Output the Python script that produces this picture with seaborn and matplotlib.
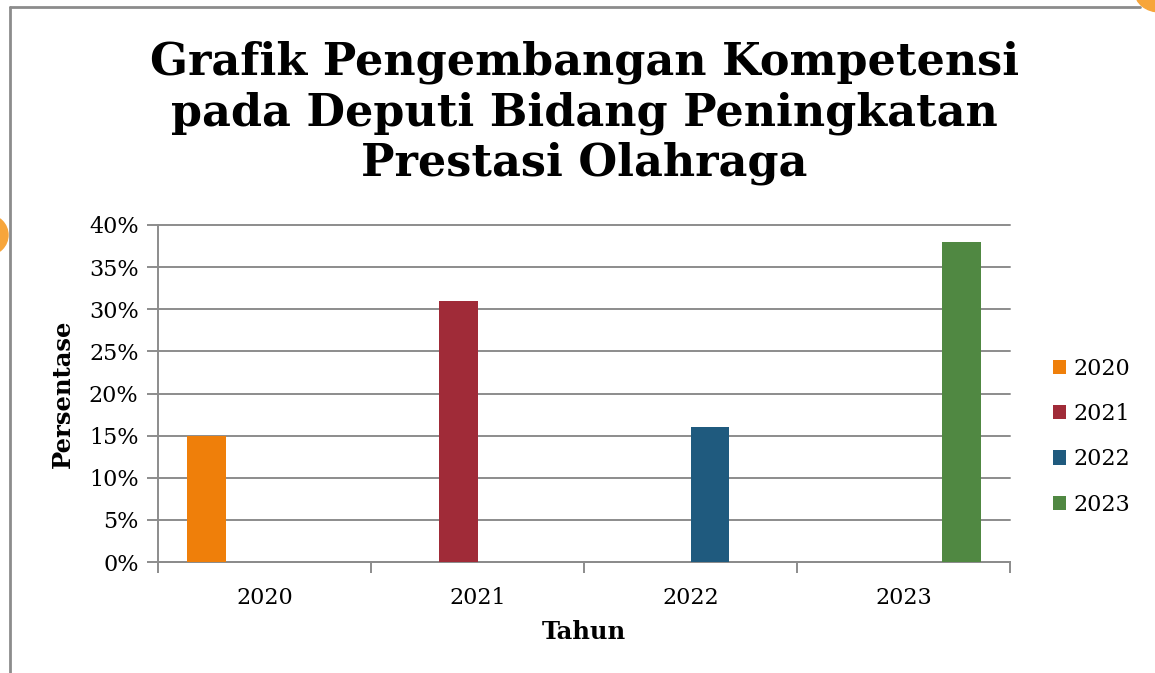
import pandas as pd
import matplotlib
matplotlib.use("Agg")
import matplotlib.pyplot as plt
from matplotlib.lines import Line2D
from matplotlib.patches import Ellipse, Patch
from matplotlib.ticker import FuncFormatter, FixedLocator
import seaborn as sns

years = ["2020", "2021", "2022", "2023"]
values = [15, 31, 16, 38]
colors = ["#EF7F0A", "#A02B38", "#1F5A7E", "#508842"]

df = pd.DataFrame({"Tahun": years, "Persentase": values})

sns.set_theme(style="white")
plt.rcParams["font.family"] = ["DejaVu Serif"]
plt.rcParams["text.color"] = "black"
plt.rcParams["axes.labelcolor"] = "black"
plt.rcParams["xtick.color"] = "black"
plt.rcParams["ytick.color"] = "black"

fig = plt.figure(figsize=(11.55, 6.73), dpi=100)
ax = fig.add_axes([0.1368, 0.1649, 0.7377, 0.5008])

sns.barplot(data=df, x="Tahun", y="Persentase", hue="Tahun", palette=colors,
            dodge=True, width=0.73, saturation=1, linewidth=0, edgecolor="none",
            legend=False, ax=ax, zorder=3)

ax.set_xlim(-0.5, 3.5)
ax.set_ylim(0, 40)
ax.set_yticks(range(0, 41, 5))
ax.yaxis.set_major_formatter(FuncFormatter(lambda v, p: f"{int(v)}%"))
ax.grid(axis="y", color="#8C8C8C", linewidth=1.4, zorder=0)
for gl in ax.get_ygridlines():
    gl.set_clip_on(False)
ax.xaxis.set_minor_locator(FixedLocator([-0.5, 0.5, 1.5, 2.5, 3.5]))
ax.tick_params(axis="x", which="major", length=0, labelsize=16, pad=18)
ax.tick_params(axis="x", which="minor", length=8, width=1.4, color="#8C8C8C", bottom=True)
ax.tick_params(axis="y", length=8, width=1.4, color="#8C8C8C", labelcolor="black",
               labelsize=16, pad=6, left=True)

for s in ["top", "right"]:
    ax.spines[s].set_visible(False)
for s in ["left", "bottom"]:
    ax.spines[s].set_color("#8C8C8C")
    ax.spines[s].set_linewidth(1.4)

ax.set_xlabel("Tahun", fontsize=17.5, fontweight="bold", labelpad=8)
ax.set_ylabel("Persentase", fontsize=17.5, fontweight="bold", labelpad=10)

fig.text(0.506, 1 - 113 / 673,
         "Grafik Pengembangan Kompetensi\npada Deputi Bidang Peningkatan\nPrestasi Olahraga",
         ha="center", va="center", fontsize=32, fontweight="bold", linespacing=1.2, color="black")

handles = [Patch(facecolor=c, edgecolor="none") for c in colors]
ax.legend(handles, years, loc="center left", bbox_to_anchor=(1.05, 0.372), frameon=False,
          fontsize=16, handlelength=0.6, handleheight=0.6, labelspacing=1.05,
          handletextpad=0.35, borderpad=0, borderaxespad=0)

# slide frame and decorations
fig.add_artist(Line2D([10 / 1155, 1140 / 1155], [1 - 7 / 673, 1 - 7 / 673], color="#8C8C8C", lw=2))
fig.add_artist(Line2D([10 / 1155, 10 / 1155], [1 - 7 / 673, 0], color="#8C8C8C", lw=2))
fig.add_artist(Ellipse((-12 / 1155, 1 - 235 / 673), 40 / 1155, 40 / 673, color="#F7A53A"))
fig.add_artist(Ellipse((1160 / 1155, 1 + 8 / 673), 50 / 1155, 40 / 673, color="#F7A53A"))

fig.savefig("out.png", dpi=100)
